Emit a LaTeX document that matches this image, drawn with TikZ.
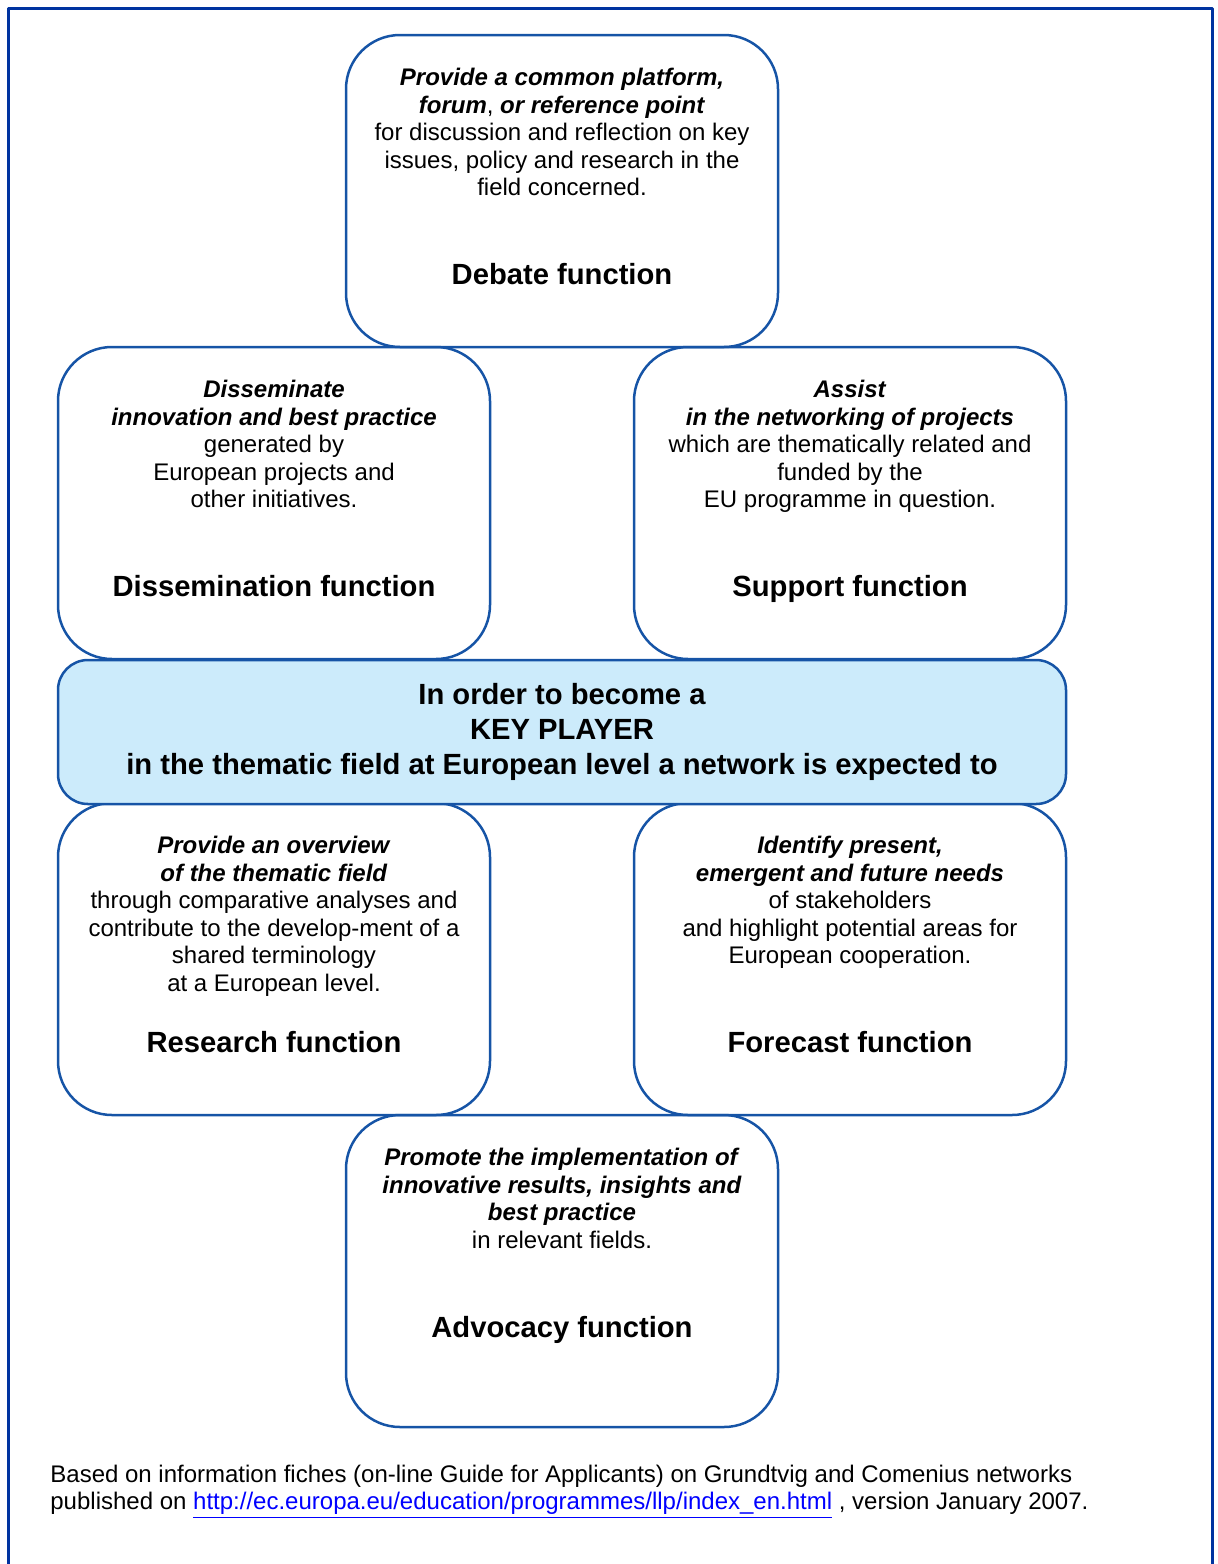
\documentclass[tikz,border=0pt]{standalone}
\usepackage{fontspec}
\setmainfont{Liberation Sans}
\usetikzlibrary{positioning}
\definecolor{framecol}{RGB}{0,51,160}
\definecolor{boxcol}{RGB}{22,84,166}
\definecolor{keyfill}{RGB}{204,235,251}
\definecolor{linkcol}{RGB}{0,0,255}
\newcommand{\bfit}[1]{\textbf{\textit{#1}}}
\begin{document}
\begin{tikzpicture}[x=0.5pt,y=-0.5pt,line join=round,
    funbox/.style={draw=boxcol,line width=1.25pt,rounded corners=27pt,minimum width=216pt,minimum height=156pt,inner sep=0pt},
    keybox/.style={draw=boxcol,fill=keyfill,line width=1.25pt,rounded corners=15pt,minimum width=504pt,minimum height=72pt,inner sep=0pt,align=center,font=\fontsize{14.6}{17.5}\selectfont\bfseries},
    desc/.style={anchor=north,align=center,inner sep=0pt,font=\fontsize{12}{13.8}\selectfont},
    funtitle/.style={anchor=base,inner sep=0pt,font=\fontsize{14.6}{17}\selectfont\bfseries}]
    \useasboundingbox (0,0) rectangle (1218,1564);
    \draw[framecol,line width=1.5pt] (8,1564) -- (8,8) -- (1212,8) -- (1212,1564);
    % the six functions
    \node[funbox] (debate) at (562,191) {};
    \node[funbox] (dissem) at (274,503) {};
    \node[funbox] (support) at (850,503) {};
    \node[funbox] (research) at (274,959) {};
    \node[funbox] (forecast) at (850,959) {};
    \node[funbox] (advocacy) at (562,1271) {};
    \node[keybox] (key) at (562,732) {In order to become a\\KEY PLAYER\\in the thematic field at European level a network is expected to};
    % texts
    \node[desc,below=17pt of debate.north] (debtxt) {\bfit{Provide a common platform,}\\\bfit{forum}, \bfit{or reference point}\\for discussion and reflection on key\\issues, policy and research in the\\field concerned.};
    \node[funtitle] (debttl) at ([yshift=-125.5pt]debate.north) {Debate function};
    \node[desc,below=17pt of dissem.north] (distxt) {\bfit{Disseminate}\\\bfit{innovation and best practice}\\generated by\\European projects and\\other initiatives.};
    \node[funtitle] (disttl) at ([yshift=-125.5pt]dissem.north) {Dissemination function};
    \node[desc,below=17pt of support.north] (suptxt) {\bfit{Assist}\\\bfit{in the networking of projects}\\which are thematically related and\\funded by the\\EU programme in question.};
    \node[funtitle] (supttl) at ([yshift=-125.5pt]support.north) {Support function};
    \node[desc,below=17pt of research.north] (restxt) {\bfit{Provide an overview}\\\bfit{of the thematic field}\\through comparative analyses and\\contribute to the develop-ment of a\\shared terminology\\at a European level.};
    \node[funtitle] (resttl) at ([yshift=-125.5pt]research.north) {Research function};
    \node[desc,below=17pt of forecast.north] (fortxt) {\bfit{Identify present,}\\\bfit{emergent and future needs}\\of stakeholders\\and highlight potential areas for\\European cooperation.};
    \node[funtitle] (forttl) at ([yshift=-125.5pt]forecast.north) {Forecast function};
    \node[desc,below=17pt of advocacy.north] (advtxt) {\bfit{Promote the implementation of}\\\bfit{innovative results, insights and}\\\bfit{best practice}\\in relevant fields.};
    \node[funtitle] (advttl) at ([yshift=-112pt]advocacy.north) {Advocacy function};
    % source
    \node[anchor=north west,align=left,inner sep=0pt,font=\fontsize{12}{13.5}\selectfont] (source) at (50,1465)
        {Based on information fiches (on-line Guide for Applicants) on Grundtvig and Comenius networks\\
         published on \textcolor{linkcol}{\underline{http://ec.europa.eu/education/programmes/llp/index\_en.html}} , version January 2007.};
\end{tikzpicture}
\end{document}
